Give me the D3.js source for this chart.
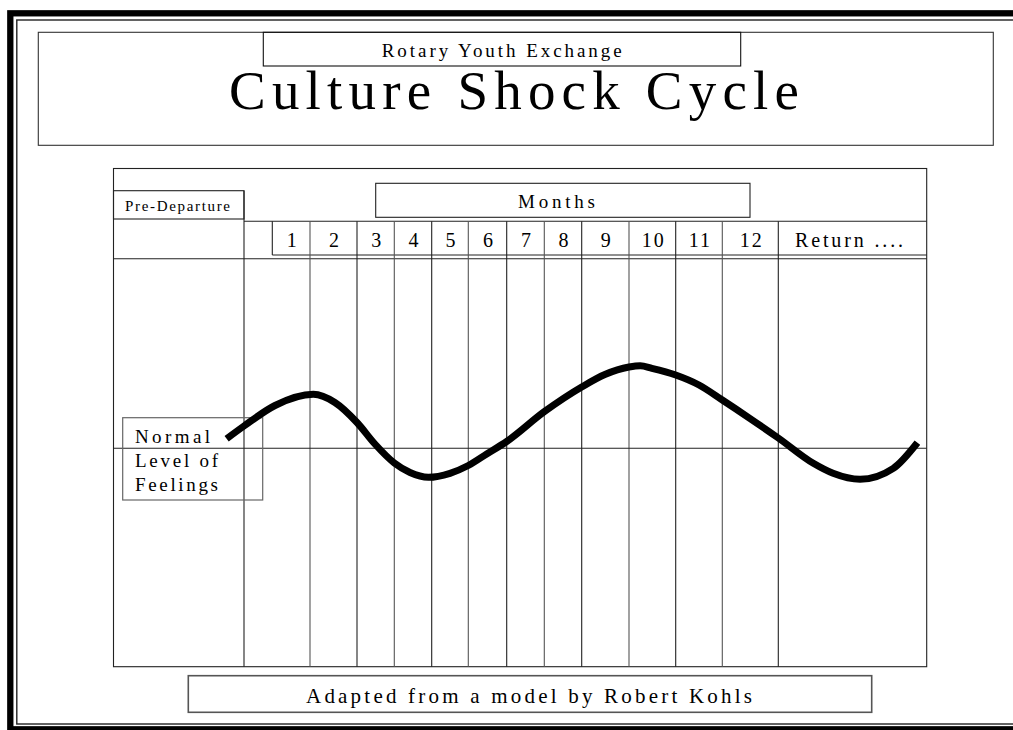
<!DOCTYPE html>
<html>
<head>
<meta charset="utf-8">
<script src="https://cdn.jsdelivr.net/npm/d3@7"></script>
<style>
  html, body { margin: 0; padding: 0; background: #fff; }
  svg { display: block; }
  text { font-family: "Liberation Serif", "Times New Roman", serif; fill: #000; }
</style>
</head>
<body>
<svg id="chart" width="1013" height="730"></svg>
<script>
// ---------------- DATA ----------------
const subtitle = "Rotary Youth Exchange";
const title = "Culture Shock Cycle";
const preDepartureLabel = "Pre-Departure";
const axisTitle = "Months";
const monthLabels = ["1", "2", "3", "4", "5", "6", "7", "8", "9", "10", "11", "12"];
const returnLabel = "Return ....";
const normalLabelLines = ["Normal", "Level of", "Feelings"];
const sourceLabel = "Adapted from a model by Robert Kohls";

// curve: position in months (column units, -1..0 = pre-departure, 12..13 = Return)
// and feeling level (0 = normal level of feelings)
const curveMonth = [-0.133, 0, 0.47, 1.07, 1.53, 2, 2.48, 3, 3.42, 3.91, 4.5, 5, 5.48, 6, 7, 8, 8.49, 9, 9.24, 9.49, 10, 10.5, 11, 11.49, 12, 12.236, 12.369, 12.551, 12.775, 12.937];
const curveLevel = [0.48, 1.115, 2.14, 2.7, 2.29, 1.29, 0.215, -0.735, -1.21, -1.45, -1.25, -0.86, -0.285, 0.34, 1.83, 3.065, 3.69, 4.065, 4.13, 4.0, 3.665, 3.165, 2.415, 1.5, 0.515, -0.75, -1.25, -1.55, -1.0, 0.28];

// ---------------- LAYOUT ----------------
const columnEdges = [113.5, 244, 310, 357, 394.3, 431.7, 468.3, 506.7, 544.3, 581.7, 629, 675.7, 722.3, 778.3, 926.7];
const chartTop = 168.5, chartBottom = 666.7;
const headerTop = 221.3, numberRowBottom = 255, bodyTop = 258.7, firstCellLeft = 272.3;

const svg = d3.select("#chart");

const x = d3.scaleLinear().domain(d3.range(-1, 14)).range(columnEdges);
const y = d3.scaleLinear().domain([-10, 10]).range([648.3, 248.3]);

// ---------------- FRAME ----------------
svg.append("rect").attr("x", 10.3).attr("y", 13.3).attr("width", 1030).attr("height", 716)
  .attr("fill", "none").attr("stroke", "#000").attr("stroke-width", 6.3);
svg.append("rect").attr("x", 16.8).attr("y", 20).attr("width", 1030).attr("height", 704)
  .attr("fill", "none").attr("stroke", "#222").attr("stroke-width", 1.4);

// title box
svg.append("rect").attr("x", 38.3).attr("y", 32.3).attr("width", 955).attr("height", 113)
  .attr("fill", "none").attr("stroke", "#333").attr("stroke-width", 1.1);
svg.append("rect").attr("x", 263.3).attr("y", 32.3).attr("width", 477.4).attr("height", 33.7)
  .attr("fill", "none").attr("stroke", "#111").attr("stroke-width", 1.1);

svg.append("text").attr("x", 381.7).attr("y", 56.5).attr("font-size", 19)
  .attr("textLength", 240).attr("lengthAdjust", "spacing").text(subtitle);
svg.append("text").attr("x", 229).attr("y", 109).attr("font-size", 55)
  .attr("textLength", 570).attr("lengthAdjust", "spacing").text(title);

// ---------------- CHART TABLE ----------------
const g = svg.append("g").attr("fill", "none").attr("stroke", "#222").attr("stroke-width", 1.1);

g.append("rect").attr("x", x(-1)).attr("y", chartTop).attr("width", x(13) - x(-1)).attr("height", chartBottom - chartTop);
// pre-departure box
g.append("rect").attr("x", x(-1)).attr("y", 190.7).attr("width", x(0) - x(-1)).attr("height", 28.3);
// months box
g.append("rect").attr("x", 375.7).attr("y", 183.3).attr("width", 374.3).attr("height", 34);

// header horizontal lines
g.append("line").attr("x1", x(0)).attr("x2", x(13)).attr("y1", headerTop).attr("y2", headerTop);
g.append("line").attr("x1", firstCellLeft).attr("x2", x(13)).attr("y1", numberRowBottom).attr("y2", numberRowBottom);
g.append("line").attr("x1", x(-1)).attr("x2", x(13)).attr("y1", bodyTop).attr("y2", bodyTop);
g.append("line").attr("x1", firstCellLeft).attr("x2", firstCellLeft).attr("y1", headerTop).attr("y2", numberRowBottom);

// pre-departure divider
g.append("line").attr("x1", x(0)).attr("x2", x(0)).attr("y1", 190.7).attr("y2", chartBottom);
// month column lines
g.selectAll("line.col").data(d3.range(1, 13)).enter().append("line").attr("class", "col")
  .attr("x1", d => x(d)).attr("x2", d => x(d))
  .attr("y1", headerTop).attr("y2", chartBottom)
  .attr("stroke", (d, i) => i % 2 ? "#222" : "#555");

// normal level line
g.append("line").attr("x1", x(-1)).attr("x2", x(13)).attr("y1", y(0)).attr("y2", y(0));

// labels
svg.append("text").attr("x", 125).attr("y", 210.5).attr("font-size", 15)
  .attr("textLength", 105).attr("lengthAdjust", "spacing").text(preDepartureLabel);
svg.append("text").attr("x", 518).attr("y", 208).attr("font-size", 19)
  .attr("textLength", 77).attr("lengthAdjust", "spacing").text(axisTitle);

svg.selectAll("text.month").data(monthLabels).enter().append("text").attr("class", "month")
  .attr("x", (d, i) => ((i === 0 ? firstCellLeft : x(i)) + x(i + 1)) / 2 + 1.5)
  .attr("y", 246.5).attr("font-size", 20).attr("text-anchor", "middle")
  .attr("letter-spacing", 2).text(d => d);
svg.append("text").attr("x", 795).attr("y", 246.5).attr("font-size", 20)
  .attr("textLength", 108).attr("lengthAdjust", "spacing").text(returnLabel);

// normal level box
svg.append("rect").attr("x", 122.7).attr("y", 417.7).attr("width", 140).attr("height", 82.3)
  .attr("fill", "none").attr("stroke", "#666").attr("stroke-width", 1.2);
const normalWidths = [75, 83, 83];
const normalBase = [442.8, 467, 490.5];
svg.selectAll("text.normal").data(normalLabelLines).enter().append("text").attr("class", "normal")
  .attr("x", 135).attr("y", (d, i) => normalBase[i]).attr("font-size", 19)
  .attr("textLength", (d, i) => normalWidths[i]).attr("lengthAdjust", "spacing").text(d => d);

// ---------------- CURVE ----------------
const pts = curveMonth.map((m, i) => [m, curveLevel[i]]);
const line = d3.line().x(d => x(d[0])).y(d => y(d[1])).curve(d3.curveMonotoneX);
svg.append("path").attr("d", line(pts)).attr("fill", "none").attr("stroke", "#000")
  .attr("stroke-width", 7).attr("stroke-linecap", "butt").attr("stroke-linejoin", "round");

// ---------------- SOURCE ----------------
svg.append("rect").attr("x", 188.3).attr("y", 675.7).attr("width", 683.4).attr("height", 36.6)
  .attr("fill", "none").attr("stroke", "#555").attr("stroke-width", 1.6);
svg.append("text").attr("x", 306).attr("y", 703).attr("font-size", 21)
  .attr("textLength", 446).attr("lengthAdjust", "spacing").text(sourceLabel);
</script>
</body>
</html>
